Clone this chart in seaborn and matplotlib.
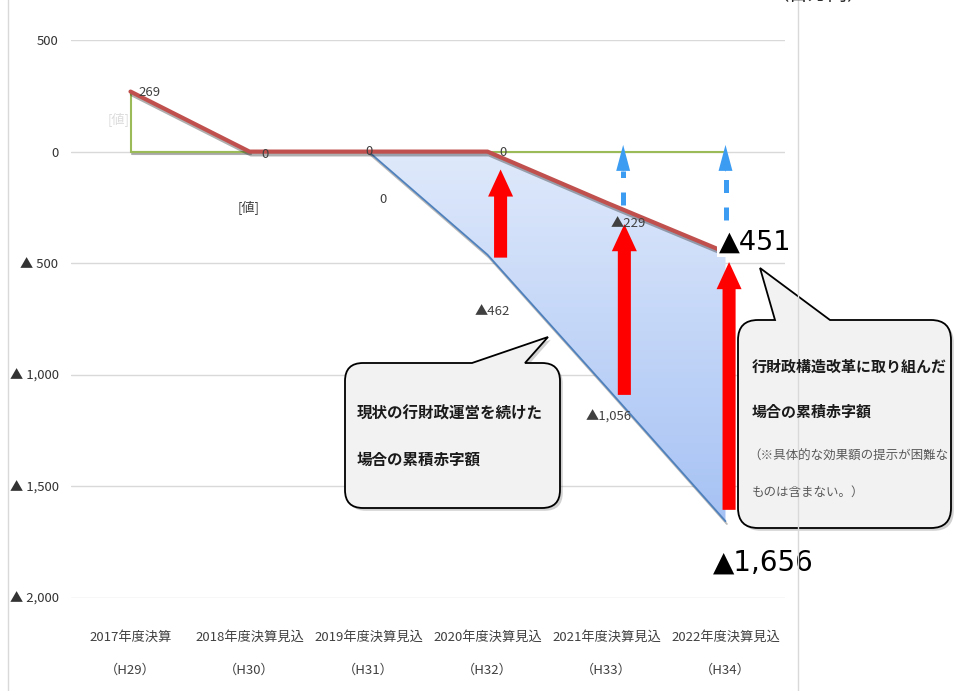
import numpy as np
import pandas as pd
import seaborn as sns
import matplotlib.pyplot as plt
import matplotlib.patheffects as pe
from matplotlib.colors import LinearSegmentedColormap
from matplotlib.patches import FancyArrowPatch, PathPatch
from matplotlib.path import Path

# chart values (百万円)
years = ["2017年度決算", "2018年度決算見込", "2019年度決算見込",
         "2020年度決算見込", "2021年度決算見込", "2022年度決算見込"]
heisei = ["（H29）", "（H30）", "（H31）", "（H32）", "（H33）", "（H34）"]
reform_deficit = [269, 0, 0, 0, -229, -451]          # 行財政構造改革に取り組んだ場合
current_deficit = [np.nan, np.nan, 0, -462, -1056, -1656]  # 現状の行財政運営を続けた場合
baseline = [0, 0, 0, 0, 0, 0]
improve_cats = [3, 4, 5]
improve_from = [-475, -1090, -1605]
improve_to = [-80, -325, -495]
extra_cats = [4, 5]
extra_from = [-240, -305]
extra_to = [30, 30]
yticks = [500, 0, -500, -1000, -1500, -2000]
ytick_labels = ["500", "0", "▲ 500", "▲ 1,000", "▲ 1,500", "▲ 2,000"]


def fmt(v):
    if np.isnan(v):
        return "[値]"
    return f"▲{abs(v):,.0f}" if v < 0 else f"{v:,.0f}"


sns.set_theme(style="white")
plt.rcParams['font.family'] = ['Noto Sans CJK JP', 'DejaVu Sans']

fig = plt.figure(figsize=(9.61, 6.91), dpi=100)
ax = fig.add_axes([71 / 961, 1 - 598 / 691, 714 / 961, 558 / 691])

df = pd.DataFrame({"x": range(6), "reform": reform_deficit,
                   "current": current_deficit, "base": baseline})
cur = df.dropna()

# green baseline (with the little vertical at 2017)
shadow = [pe.SimpleLineShadow(offset=(1, -2), alpha=0.35), pe.Normal()]
sns.lineplot(data=df, x="x", y="base", ax=ax, color="#9bbb59", lw=1.5, zorder=2)
ax.plot([0, 1], [0, 0], color="#9bbb59", lw=1.5, zorder=2, path_effects=shadow)
ax.plot([0, 0], [0, reform_deficit[0]], color="#9bbb59", lw=1.5, zorder=2)

# gradient area between the two cases
poly = ax.fill_between(cur["x"], cur["reform"], cur["current"], facecolor="none", edgecolor="none")
cmap = LinearSegmentedColormap.from_list("area", ["#dfe9fb", "#a6c2f4"])
grad = np.linspace(0, 1, 256).reshape(-1, 1)
im = ax.imshow(grad, cmap=cmap, aspect="auto", origin="upper", zorder=1,
               extent=[cur["x"].min(), cur["x"].max(), cur["current"].min(), cur["reform"].max()])
im.set_clip_path(poly.get_paths()[0], transform=ax.transData)

sns.lineplot(data=cur, x="x", y="current", ax=ax, color="#4f81bd", lw=1.3, zorder=4,
             path_effects=[pe.SimpleLineShadow(offset=(1, -2), alpha=0.3), pe.Normal()])
sns.lineplot(data=df, x="x", y="reform", ax=ax, color="#c0504d", lw=3.0, zorder=5,
             path_effects=shadow)

ax.set_xlim(-0.5, 5.5)
ax.set_ylim(-2000, 500)

# red improvement arrows
red_dx = [0.11, 0.15, 0.03]
for c, d, a, b in zip(improve_cats, red_dx, improve_from, improve_to):
    ax.add_patch(FancyArrowPatch((c + d, a), (c + d, b),
                                 arrowstyle="simple,head_length=19.5,head_width=18,tail_width=9.4",
                                 mutation_scale=1, color="#ff0000", lw=0, zorder=6,
                                 shrinkA=0, shrinkB=0))

# blue dashed arrows
per_px = 2500 / 558
head = 26 * per_px
blue_dx = [0.14, 0.0]
for c, d, a, b in zip(extra_cats, blue_dx, extra_from, extra_to):
    ax.plot([c + d, c + d], [a, b - head], color="#3c9cf2", lw=3.6,
            dashes=(2.6, 2.9), solid_capstyle="butt", zorder=6)
    ax.add_patch(FancyArrowPatch((c + d, b - head - 2), (c + d, b),
                                 arrowstyle="simple,head_length=18.7,head_width=10,tail_width=0.5",
                                 mutation_scale=1, color="#3c9cf2", lw=0, zorder=6,
                                 shrinkA=0, shrinkB=0))

# data labels
red_off = [(8, -1, "left"), (16, -3, "center"), (0, 0, "center"),
           (15, -1, "center"), (22, -21, "center"), (-7, 10, "left")]
for i, v in enumerate(reform_deficit):
    dx, dy, ha = red_off[i]
    big = i == 5
    ax.annotate(fmt(v), (i, v), xytext=(dx, dy), textcoords="offset pixels",
                ha=ha, va="center", zorder=8,
                fontsize=19.5 if big else 9.5, color="black" if big else "#404040",
                family=["DejaVu Sans"] if big else None,
                bbox=dict(fc="white", ec="none", pad=1) if big else None)

blue_off = [(-12, 32, "center"), (-1, -56, "center"), (14, -48, "center"),
            (5, -57, "center"), (2, -30, "center"), (-13, -41, "left")]
for i, v in enumerate(current_deficit):
    dx, dy, ha = blue_off[i]
    big = i == 5
    ax.annotate(fmt(v), (i, np.nan_to_num(v)), xytext=(dx, dy), textcoords="offset pixels",
                ha=ha, va="center", zorder=8,
                fontsize=20 if big else 9.5,
                color="black" if big else ("#dcdcdc" if i == 0 else "#404040"),
                family=["DejaVu Sans"] if big else None)

ax.set_xticks(range(6))
ax.set_xticklabels([f"{y}\n{h}" for y, h in zip(years, heisei)], fontsize=9.5,
                   linespacing=2.9, color="#404040")
ax.set_yticks(yticks)
ax.set_yticklabels(ytick_labels, fontsize=9.5, color="#333333")
ax.tick_params(axis="x", length=0, pad=24)
ax.tick_params(axis="y", length=0, pad=9)
ax.grid(axis="y", color="#d9d9d9", lw=1)
ax.grid(axis="x", visible=False)
ax.set_axisbelow(True)
ax.set_xlabel("")
ax.set_ylabel("")
sns.despine(ax=ax, left=True, bottom=True)

# overlay in pixel coordinates for callouts and frame
ov = fig.add_axes([0, 0, 1, 1], zorder=10)
ov.set_xlim(0, 961)
ov.set_ylim(691, 0)
ov.axis("off")
ov.patch.set_alpha(0)


def bubble(box, base, tip, r):
    x0, y0, x1, y1 = box
    verts = [(x0 + r, y0), (base[0], y0), tip, (base[1], y0), (x1 - r, y0),
             (x1, y0), (x1, y0 + r), (x1, y1 - r), (x1, y1), (x1 - r, y1),
             (x0 + r, y1), (x0, y1), (x0, y1 - r), (x0, y0 + r), (x0, y0), (x0 + r, y0),
             (x0 + r, y0)]
    codes = [Path.MOVETO, Path.LINETO, Path.LINETO, Path.LINETO, Path.LINETO,
             Path.CURVE3, Path.CURVE3, Path.LINETO, Path.CURVE3, Path.CURVE3,
             Path.LINETO, Path.CURVE3, Path.CURVE3, Path.LINETO, Path.CURVE3, Path.CURVE3,
             Path.CLOSEPOLY]
    ov.add_patch(PathPatch(Path(verts, codes), fc="#f2f2f2", ec="black", lw=1.3,
                           path_effects=[pe.SimplePatchShadow(offset=(2, -2), alpha=0.25),
                                         pe.Normal()]))


bubble((345, 363, 560, 508), (472, 525), (548, 337), 18)
bubble((738, 320, 951, 528), (775, 830), (760, 268), 20)

cjk = ["Noto Sans CJK JP", "DejaVu Sans"]
ov.text(357, 414, "現状の行財政運営を続けた", fontsize=11.2, weight="bold", family=cjk,
        va="center", color="#1a1a1a")
ov.text(357, 460, "場合の累積赤字額", fontsize=11.2, weight="bold", family=cjk,
        va="center", color="#1a1a1a")
ov.text(752, 367, "行財政構造改革に取り組んだ", fontsize=10.8, weight="bold", family=cjk,
        va="center", color="#1a1a1a")
ov.text(752, 412, "場合の累積赤字額", fontsize=10.8, weight="bold", family=cjk,
        va="center", color="#1a1a1a")
ov.text(748, 456, "（※具体的な効果額の提示が困難な", fontsize=9, family=cjk,
        va="center", color="#595959")
ov.text(752, 492, "ものは含まない。）", fontsize=9, family=cjk,
        va="center", color="#595959")

ov.text(818, 5, "（百万円）", fontsize=14, family=cjk, ha="center", va="bottom")
ov.plot([8, 8], [0, 691], color="#d9d9d9", lw=1)
ov.plot([798, 798], [0, 691], color="#d9d9d9", lw=1)

fig.savefig("out.png", dpi=100)
